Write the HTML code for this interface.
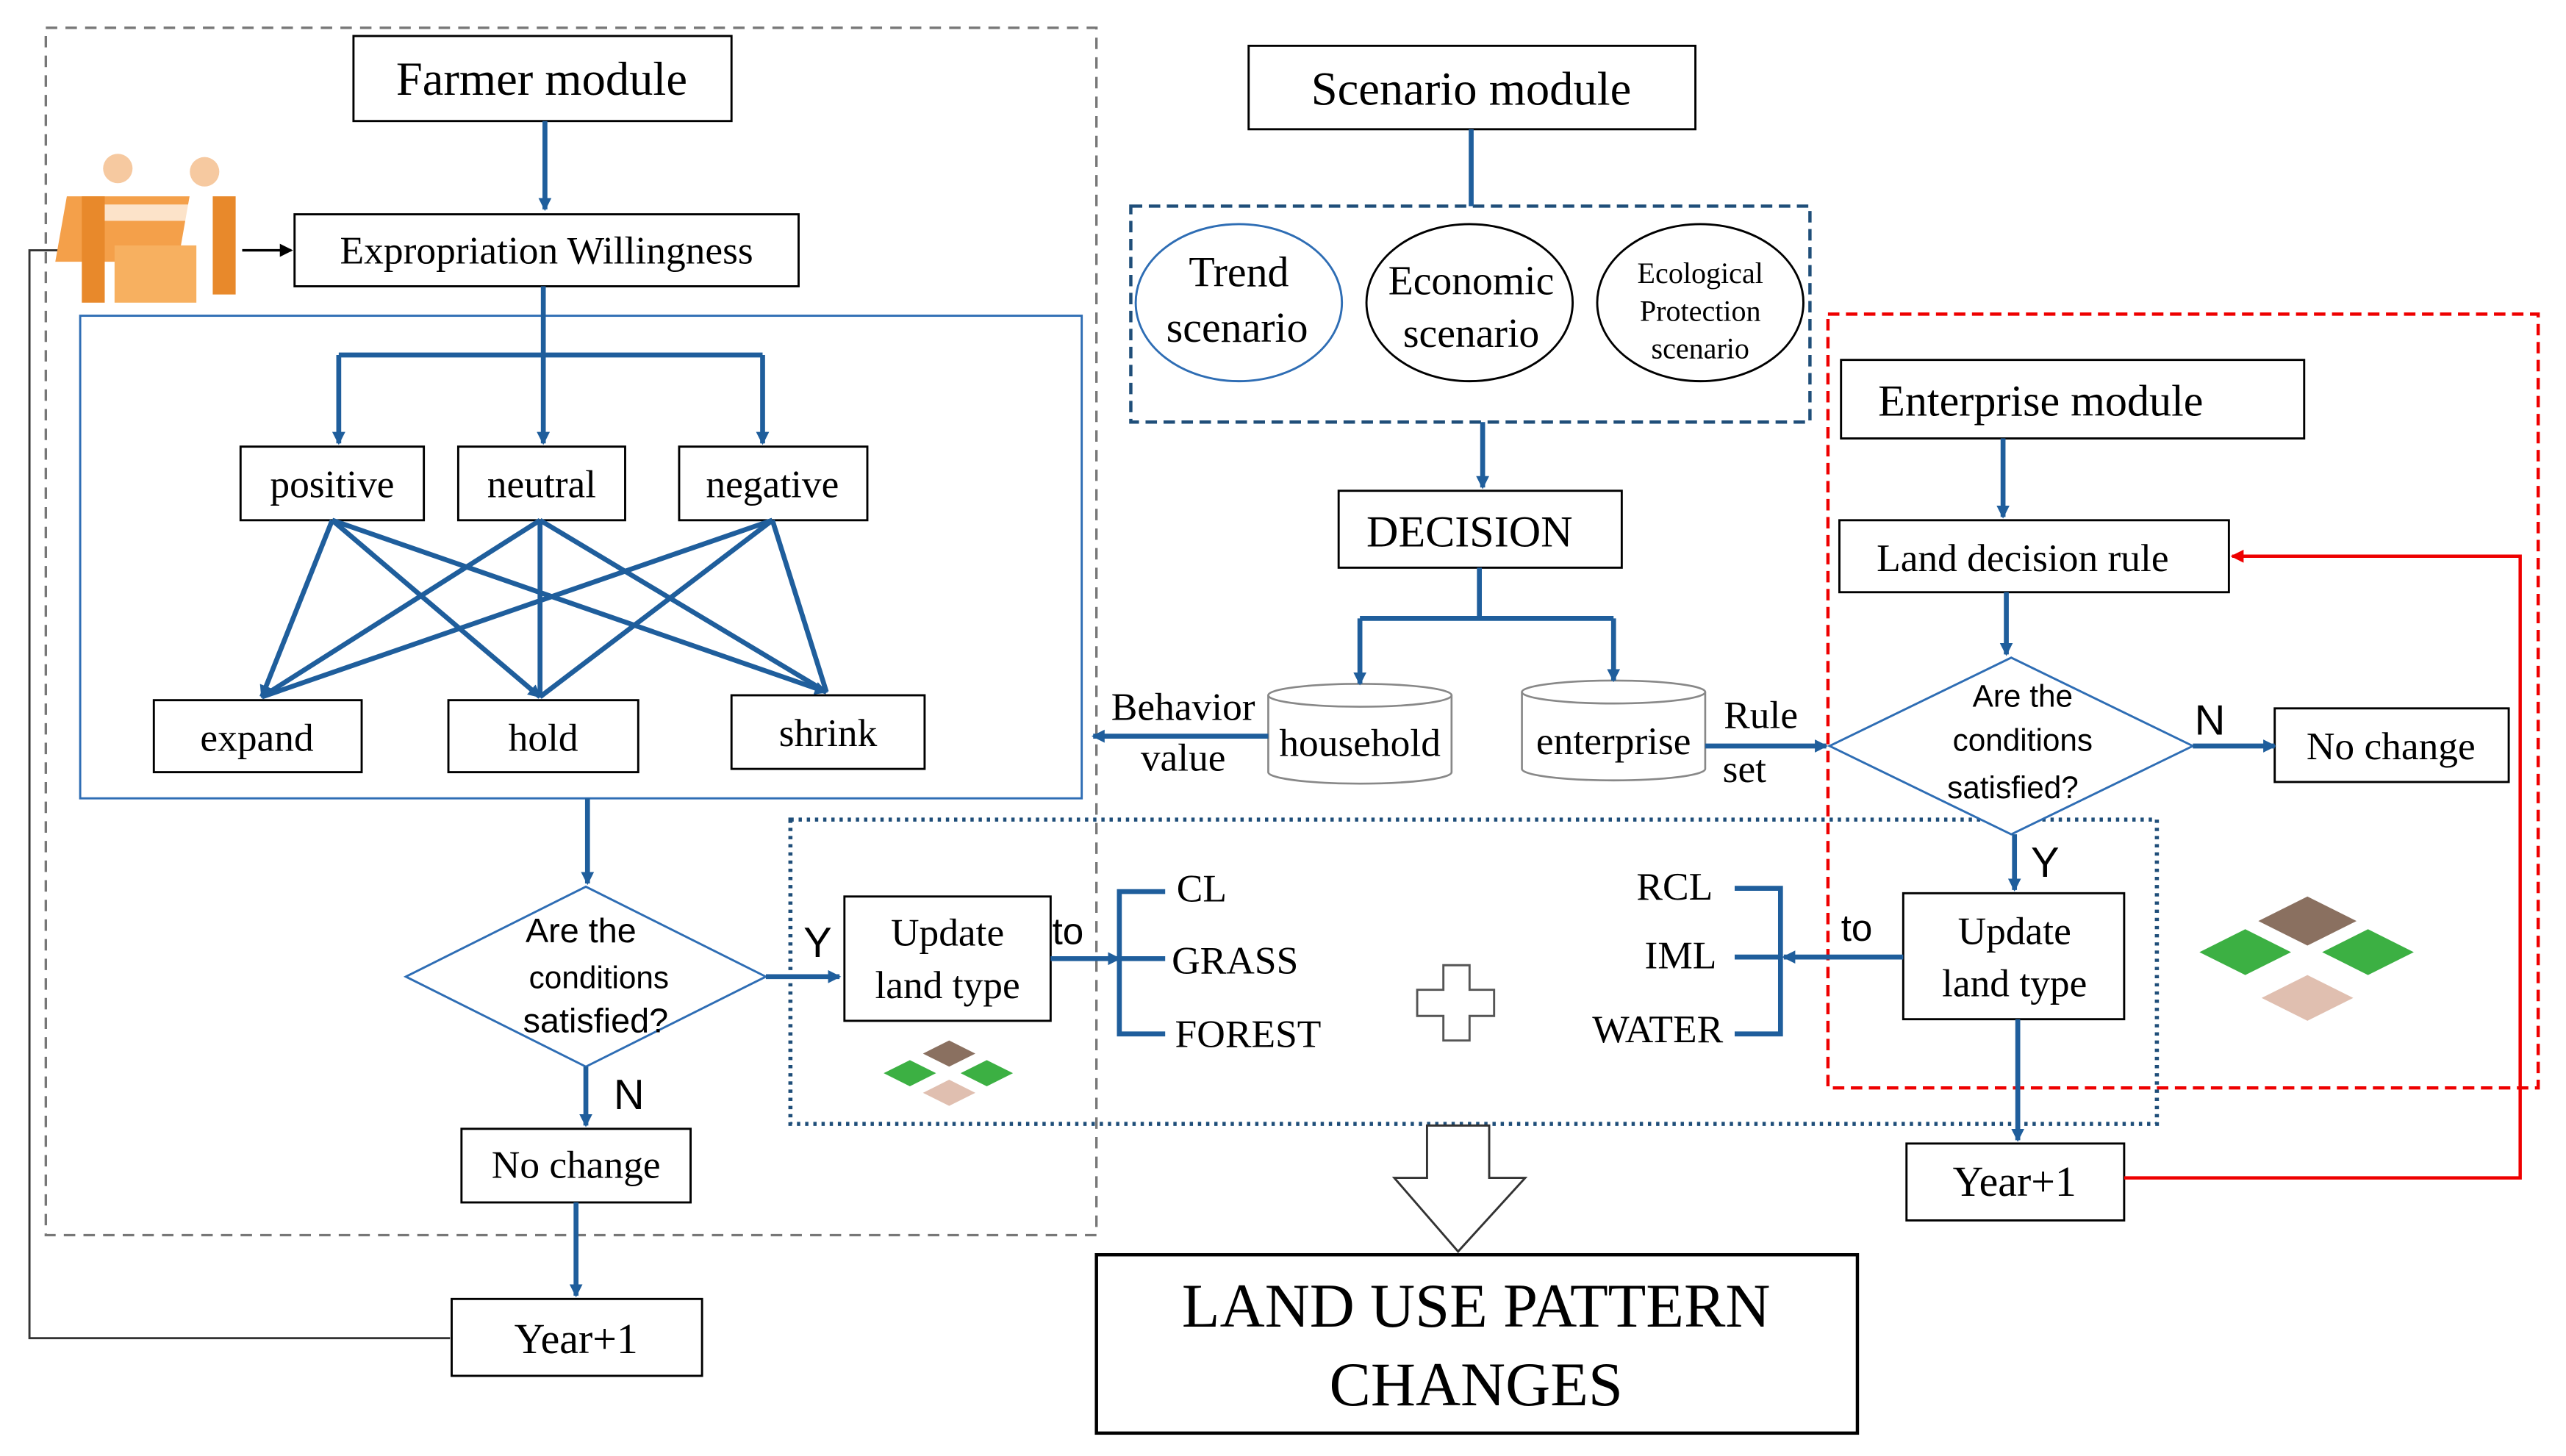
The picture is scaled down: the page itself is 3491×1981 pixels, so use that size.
<!DOCTYPE html>
<html><head><meta charset="utf-8"><style>
html,body{margin:0;padding:0;background:#fff;}
svg{display:block;}
text{font-family:"Liberation Serif",serif;fill:#000;}
.s{font-family:"Liberation Sans",sans-serif;}
</style></head><body>
<svg width="3491" height="1981" viewBox="0 0 1568 890" preserveAspectRatio="none" xmlns="http://www.w3.org/2000/svg">
<defs>
<marker id="ab" markerWidth="8" markerHeight="8" refX="7" refY="4" orient="auto" markerUnits="userSpaceOnUse"><path d="M0,0 L8,4 L0,8 Z" fill="#1f5e9c"/></marker>
<marker id="ak" markerWidth="8" markerHeight="8" refX="7" refY="4" orient="auto" markerUnits="userSpaceOnUse"><path d="M0,0 L8,4 L0,8 Z" fill="#000"/></marker>
<marker id="ar" markerWidth="8" markerHeight="8" refX="7" refY="4" orient="auto" markerUnits="userSpaceOnUse"><path d="M0,0 L8,4 L0,8 Z" fill="#e00"/></marker>
</defs>
<rect width="1568" height="890" fill="#fff"/>
<g fill="none">
<rect x="28" y="17" width="642" height="738" stroke="#777" stroke-width="1.5" stroke-dasharray="7,5"/>
<rect x="49" y="193" width="612" height="295" stroke="#2e6db4" stroke-width="1.3"/>
<rect x="691" y="126" width="415" height="132" stroke="#1f4e79" stroke-width="2" stroke-dasharray="7,4"/>
<rect x="1117" y="192" width="434" height="473" stroke="#e00" stroke-width="2" stroke-dasharray="7,4"/>
<rect x="483" y="501" width="835" height="186" stroke="#1f4e79" stroke-width="2.5" stroke-dasharray="2,3"/>
</g>
<g fill="#fff" stroke="#000" stroke-width="1.3">
<rect x="216" y="22" width="231" height="52"/>
<rect x="180" y="131" width="308" height="44"/>
<rect x="147" y="273" width="112" height="45"/>
<rect x="280" y="273" width="102" height="45"/>
<rect x="415" y="273" width="115" height="45"/>
<rect x="94" y="428" width="127" height="44"/>
<rect x="274" y="428" width="116" height="44"/>
<rect x="447" y="425" width="118" height="45"/>
<rect x="282" y="690" width="140" height="45"/>
<rect x="276" y="794" width="153" height="47"/>
<rect x="763" y="28" width="273" height="51"/>
<rect x="818" y="300" width="173" height="47"/>
<rect x="1125" y="220" width="283" height="48"/>
<rect x="1124" y="318" width="238" height="44"/>
<rect x="1390" y="433" width="143" height="45"/>
<rect x="1163" y="546" width="135" height="77"/>
<rect x="516" y="548" width="126" height="76"/>
<rect x="1165" y="699" width="133" height="47"/>
<rect x="670" y="767" width="465" height="109" stroke-width="2"/>
</g>
<g stroke="#2e6db4" stroke-width="1.3" fill="#fff">
<polygon points="248,597 358,542 468,597 358,652"/>
<polygon points="1118,456 1229,402 1340,456 1229,510"/>
<ellipse cx="757" cy="185" rx="63" ry="48"/>
<ellipse cx="898" cy="185" rx="63" ry="48" stroke="#000"/>
<ellipse cx="1039" cy="185" rx="63" ry="48" stroke="#000"/>
</g>
<!-- cylinders -->
<g stroke="#888" stroke-width="1.2" fill="#fff">
<path d="M775,425 L775,472 A56,7 0 0 0 887,472 L887,425"/>
<ellipse cx="831" cy="425" rx="56" ry="7"/>
<path d="M930,423 L930,470 A56,7 0 0 0 1042,470 L1042,423"/>
<ellipse cx="986" cy="423" rx="56" ry="7"/>
</g>
<!-- blue connectors -->
<g stroke="#1f5e9c" stroke-width="3" fill="none">
<line x1="333" y1="74" x2="333" y2="128" marker-end="url(#ab)"/>
<path d="M332,175 V217 M207,217 H466"/>
<line x1="207" y1="217" x2="207" y2="271" marker-end="url(#ab)"/>
<line x1="332" y1="217" x2="332" y2="271" marker-end="url(#ab)"/>
<line x1="466" y1="217" x2="466" y2="271" marker-end="url(#ab)"/>
<line x1="203" y1="318" x2="160" y2="426" marker-end="url(#ab)"/>
<line x1="203" y1="318" x2="330" y2="426" marker-end="url(#ab)"/>
<line x1="203" y1="318" x2="505" y2="423" marker-end="url(#ab)"/>
<line x1="330" y1="318" x2="160" y2="426"/>
<line x1="330" y1="318" x2="330" y2="426"/>
<line x1="330" y1="318" x2="505" y2="423"/>
<line x1="472" y1="318" x2="160" y2="426"/>
<line x1="472" y1="318" x2="330" y2="426"/>
<line x1="472" y1="318" x2="505" y2="423"/>
<line x1="359" y1="488" x2="359" y2="540" marker-end="url(#ab)"/>
<line x1="468" y1="597" x2="513" y2="597" marker-end="url(#ab)"/>
<line x1="358" y1="652" x2="358" y2="688" marker-end="url(#ab)"/>
<line x1="352" y1="735" x2="352" y2="792" marker-end="url(#ab)"/>
<line x1="899" y1="79" x2="899" y2="126"/>
<line x1="906" y1="258" x2="906" y2="298" marker-end="url(#ab)"/>
<path d="M904,347 V378 M831,378 H986"/>
<line x1="831" y1="378" x2="831" y2="418" marker-end="url(#ab)"/>
<line x1="986" y1="378" x2="986" y2="416" marker-end="url(#ab)"/>
<line x1="775" y1="450" x2="668" y2="450" marker-end="url(#ab)"/>
<line x1="1042" y1="456" x2="1116" y2="456" marker-end="url(#ab)"/>
<line x1="1224" y1="268" x2="1224" y2="316" marker-end="url(#ab)"/>
<line x1="1226" y1="362" x2="1226" y2="400" marker-end="url(#ab)"/>
<line x1="1340" y1="456" x2="1390" y2="456" marker-end="url(#ab)"/>
<line x1="1231" y1="510" x2="1231" y2="544" marker-end="url(#ab)"/>
<line x1="1163" y1="585" x2="1090" y2="585" marker-end="url(#ab)"/>
<path d="M1060,543 H1088 V632 H1060 M1060,585 H1088"/>
<line x1="642" y1="586" x2="684" y2="586" marker-end="url(#ab)"/>
<path d="M712,545 H684 V632 H712 M684,586 H712"/>
<line x1="1233" y1="623" x2="1233" y2="697" marker-end="url(#ab)"/>
</g>
<!-- black/red -->
<path d="M275,818 H18 V153 H50" stroke="#333" stroke-width="1.3" fill="none"/>
<line x1="148" y1="153" x2="178" y2="153" stroke="#000" stroke-width="1.5" marker-end="url(#ak)"/>
<path d="M1298,720 H1540 V340 H1364" stroke="#e00" stroke-width="2" fill="none" marker-end="url(#ar)"/>
<!-- hollow arrow -->
<path d="M872,688 H910 V720 H932 L891,765 L852,720 H872 Z" fill="#fff" stroke="#333" stroke-width="1.3"/>
<!-- plus -->
<path d="M882,590 H898 V605 H913 V621 H898 V636 H882 V621 H866 V605 H882 Z" fill="#fff" stroke="#555" stroke-width="1.3"/>
<!-- icon -->
<g>
<rect x="62" y="120" width="75" height="40" fill="#f4a04a" transform="skewX(-10)"/>
<rect x="55" y="125" width="85" height="10" fill="#fff" opacity="0.7"/>
<circle cx="72" cy="103" r="9" fill="#f6c9a0"/><circle cx="125" cy="105" r="9" fill="#f6c9a0"/>
<rect x="50" y="120" width="14" height="65" fill="#e8892b"/><rect x="130" y="120" width="14" height="60" fill="#e8892b"/>
<rect x="70" y="150" width="50" height="35" fill="#f7b060"/>
</g>
<!-- tiles -->
<g stroke="none">
<polygon points="580,636 596,644 580,652 564,644" fill="#8a7060"/>
<polygon points="556,648 572,656 556,664 540,656" fill="#3cb043"/>
<polygon points="603,648 619,656 603,664 587,656" fill="#3cb043"/>
<polygon points="580,660 596,668 580,676 564,668" fill="#e0bfb0"/>
<polygon points="1410,548 1440,563 1410,578 1380,563" fill="#8a7060"/>
<polygon points="1372,568 1400,582 1372,596 1344,582" fill="#3cb043"/>
<polygon points="1447,568 1475,582 1447,596 1419,582" fill="#3cb043"/>
<polygon points="1410,596 1438,610 1410,624 1382,610" fill="#e0bfb0"/>
</g>
<!-- text -->
<g font-size="24" text-anchor="middle">
<text x="331" y="58" font-size="29">Farmer module</text>
<text x="334" y="161">Expropriation Willingness</text>
<text x="203" y="304">positive</text>
<text x="331" y="304">neutral</text>
<text x="472" y="304">negative</text>
<text x="157" y="459">expand</text>
<text x="332" y="459">hold</text>
<text x="506" y="456">shrink</text>
<text x="352" y="720">No change</text>
<text x="352" y="827" font-size="26">Year+1</text>
<text x="899" y="64" font-size="29">Scenario module</text>
<text x="757" y="175" font-size="26">Trend</text>
<text x="756" y="209" font-size="26">scenario</text>
<text x="899" y="180" font-size="25">Economic</text>
<text x="899" y="212" font-size="25">scenario</text>
<text x="1039" y="173" font-size="18">Ecological</text>
<text x="1039" y="196" font-size="18">Protection</text>
<text x="1039" y="219" font-size="18">scenario</text>
<text x="898" y="334" font-size="27">DECISION</text>
<text x="831" y="462">household</text>
<text x="986" y="461">enterprise</text>
<text x="723" y="440">Behavior</text>
<text x="723" y="471">value</text>
<text x="1076" y="445">Rule</text>
<text x="1066" y="478">set</text>
<text x="1247" y="254" font-size="27">Enterprise module</text>
<text x="1236" y="349">Land decision rule</text>
<text x="1461" y="464">No change</text>
<text x="1231" y="577">Update</text>
<text x="1231" y="609">land type</text>
<text x="579" y="578">Update</text>
<text x="579" y="610">land type</text>
<text x="1231" y="731" font-size="26">Year+1</text>
<text x="902" y="811" font-size="38">LAND USE PATTERN</text>
<text x="902" y="859" font-size="38">CHANGES</text>
</g>
<g font-size="24">
<text x="719" y="551">CL</text>
<text x="716" y="595">GRASS</text>
<text x="718" y="640">FOREST</text>
<text x="1000" y="550">RCL</text>
<text x="1005" y="592">IML</text>
<text x="973" y="637">WATER</text>
<text x="643" y="577" class="s" font-size="23">to</text>
<text x="1125" y="575" class="s" font-size="23">to</text>
</g>
<g class="s" text-anchor="middle" font-size="20">
<text x="355" y="576" class="s" font-size="21">Are the</text>
<text x="366" y="604" class="s" font-size="19">conditions</text>
<text x="364" y="631" class="s" font-size="21">satisfied?</text>
<text x="1236" y="432" class="s" font-size="19">Are the</text>
<text x="1236" y="459" class="s" font-size="19">conditions</text>
<text x="1230" y="488" class="s" font-size="19">satisfied?</text>
</g>
<g class="s" font-size="26">
<text x="491" y="585" class="s">Y</text>
<text x="375" y="678" class="s">N</text>
<text x="1341" y="449" class="s">N</text>
<text x="1241" y="536" class="s">Y</text>
</g>
</svg>
</body></html>
